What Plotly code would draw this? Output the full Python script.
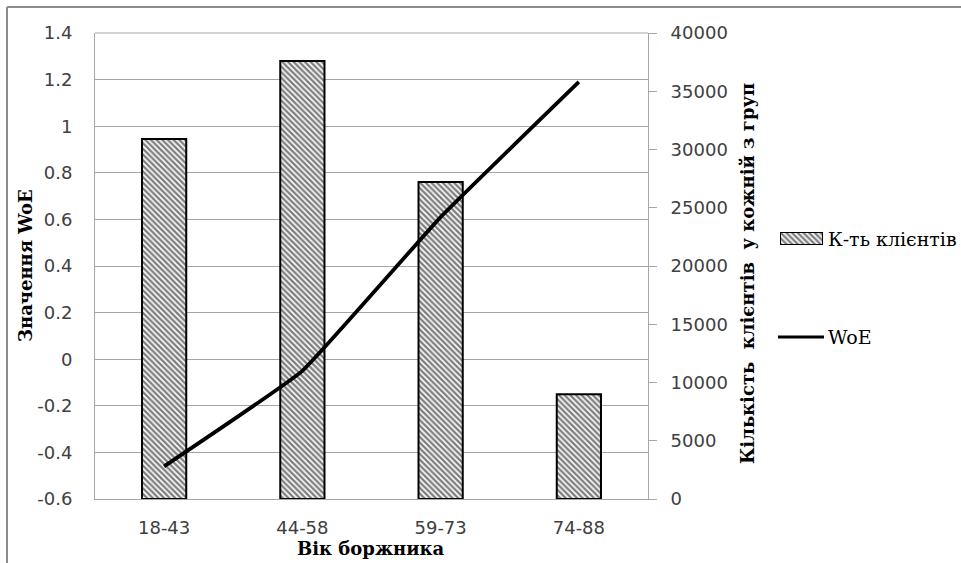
import plotly.graph_objects as go

# Age groups of borrowers
age_groups = ["18-43", "44-58", "59-73", "74-88"]
# Number of clients in each group (right axis)
client_counts = [30900, 37600, 27200, 9000]
# Weight of Evidence per group (left axis)
woe_values = [-0.46, -0.05, 0.61, 1.19]

woe_ticks = [-0.6, -0.4, -0.2, 0, 0.2, 0.4, 0.6, 0.8, 1, 1.2, 1.4]
woe_ticktext = ["-0.6", "-0.4", "-0.2", "0", "0.2", "0.4", "0.6", "0.8", "1", "1.2", "1.4"]
count_ticks = [0, 5000, 10000, 15000, 20000, 25000, 30000, 35000, 40000]

bar_name = "К-ть клієнтів"
line_name = "WoE"

W, H = 961, 563
PLOT_L, PLOT_R, PLOT_T, PLOT_B = 95, 648, 33, 499


def px_x(x):
    # horizontal pixel -> paper fraction (no side margins)
    return x / W


def px_y(y):
    # vertical pixel -> paper fraction (paper spans the plot area height)
    return (PLOT_B - y) / (PLOT_B - PLOT_T)


tick_font = dict(family="DejaVu Sans, sans-serif", size=18, color="#404040")
title_font = dict(family="DejaVu Serif, serif", size=18, color="#000000")
legend_font = dict(family="DejaVu Serif, serif", size=19, color="#000000")
grid = "#a6a6a6"

bar_marker = dict(color="white", line=dict(color="black", width=2),
                  pattern=dict(shape="\\", fgcolor="black", bgcolor="white",
                               size=4, solidity=0.6))

fig = go.Figure()

fig.add_trace(go.Bar(
    x=age_groups, y=client_counts, name=bar_name,
    yaxis="y", width=0.32, marker=bar_marker, showlegend=False,
))

fig.add_trace(go.Scatter(
    x=age_groups, y=woe_values, name=line_name, mode="lines",
    yaxis="y2", showlegend=False,
    line=dict(color="black", width=3.8, shape="spline", smoothing=0.3),
))

# legend swatch for the bar series, drawn on its own tiny hidden axes
fig.add_trace(go.Bar(
    x=[0], y=[1], width=[1], xaxis="x3", yaxis="y3", marker=bar_marker,
    showlegend=False, hoverinfo="skip",
))

fig.update_layout(
    width=W, height=H,
    margin=dict(l=0, r=0, t=PLOT_T, b=H - PLOT_B, autoexpand=False),
    paper_bgcolor="white", plot_bgcolor="white",
    showlegend=False,
    xaxis=dict(
        domain=[px_x(PLOT_L), px_x(PLOT_R)],
        type="category", showgrid=False, showline=True, linecolor=grid, linewidth=1,
        ticks="", tickfont=tick_font, ticklabelstandoff=12,
    ),
    yaxis=dict(
        domain=[0, 1],
        side="right", range=[0, 40000], tickvals=count_ticks, tickformat="d",
        showgrid=False, zeroline=False, showline=True, linecolor=grid, linewidth=1,
        ticks="outside", ticklen=8, tickcolor=grid, tickfont=tick_font,
        ticklabelstandoff=10,
    ),
    yaxis2=dict(
        side="left", overlaying="y", range=[-0.6, 1.4],
        tickvals=woe_ticks, ticktext=woe_ticktext,
        showgrid=True, gridcolor=grid, gridwidth=1, zeroline=False,
        showline=True, linecolor=grid, linewidth=1,
        ticks="", tickfont=tick_font, ticklabelstandoff=18,
    ),
    xaxis3=dict(domain=[px_x(780), px_x(823)], anchor="y3", range=[-0.5, 0.5],
                visible=False, fixedrange=True),
    yaxis3=dict(domain=[px_y(245), px_y(232)], anchor="x3", range=[0, 1],
                visible=False, fixedrange=True),
    shapes=[
        # top boundary line of the plot area
        dict(type="line", xref="paper", yref="paper",
             x0=px_x(PLOT_L), x1=px_x(PLOT_R), y0=1, y1=1,
             line=dict(color=grid, width=1)),
        # outer chart frame (top and left edges)
        dict(type="line", xref="paper", yref="paper",
             x0=px_x(7), x1=px_x(970), y0=px_y(7), y1=px_y(7),
             line=dict(color="#8c8c8c", width=2)),
        dict(type="line", xref="paper", yref="paper",
             x0=px_x(7), x1=px_x(7), y0=px_y(7), y1=px_y(570),
             line=dict(color="#8c8c8c", width=2)),
        # legend swatch for the line series
        dict(type="line", xref="paper", yref="paper",
             x0=px_x(778), x1=px_x(824), y0=px_y(337), y1=px_y(337),
             line=dict(color="black", width=3)),
    ],
    annotations=[
        dict(text="<b>Значення WoE</b>", xref="paper", yref="paper",
             x=px_x(25), y=px_y(266), textangle=-90, showarrow=False,
             xanchor="center", yanchor="middle", font=title_font),
        dict(text="<b>Кількість  клієнтів  у кожній з груп</b>", xref="paper", yref="paper",
             x=px_x(747), y=px_y(274), textangle=-90, showarrow=False,
             xanchor="center", yanchor="middle", font=title_font),
        dict(text="<b>Вік боржника</b>", xref="paper", yref="paper",
             x=px_x(371), y=px_y(548), showarrow=False,
             xanchor="center", yanchor="middle", font=title_font),
        dict(text=bar_name, xref="paper", yref="paper",
             x=px_x(826), y=px_y(239), showarrow=False,
             xanchor="left", yanchor="middle", font=legend_font),
        dict(text=line_name, xref="paper", yref="paper",
             x=px_x(826), y=px_y(337), showarrow=False,
             xanchor="left", yanchor="middle", font=legend_font),
    ],
)

fig.write_html("out.html")
